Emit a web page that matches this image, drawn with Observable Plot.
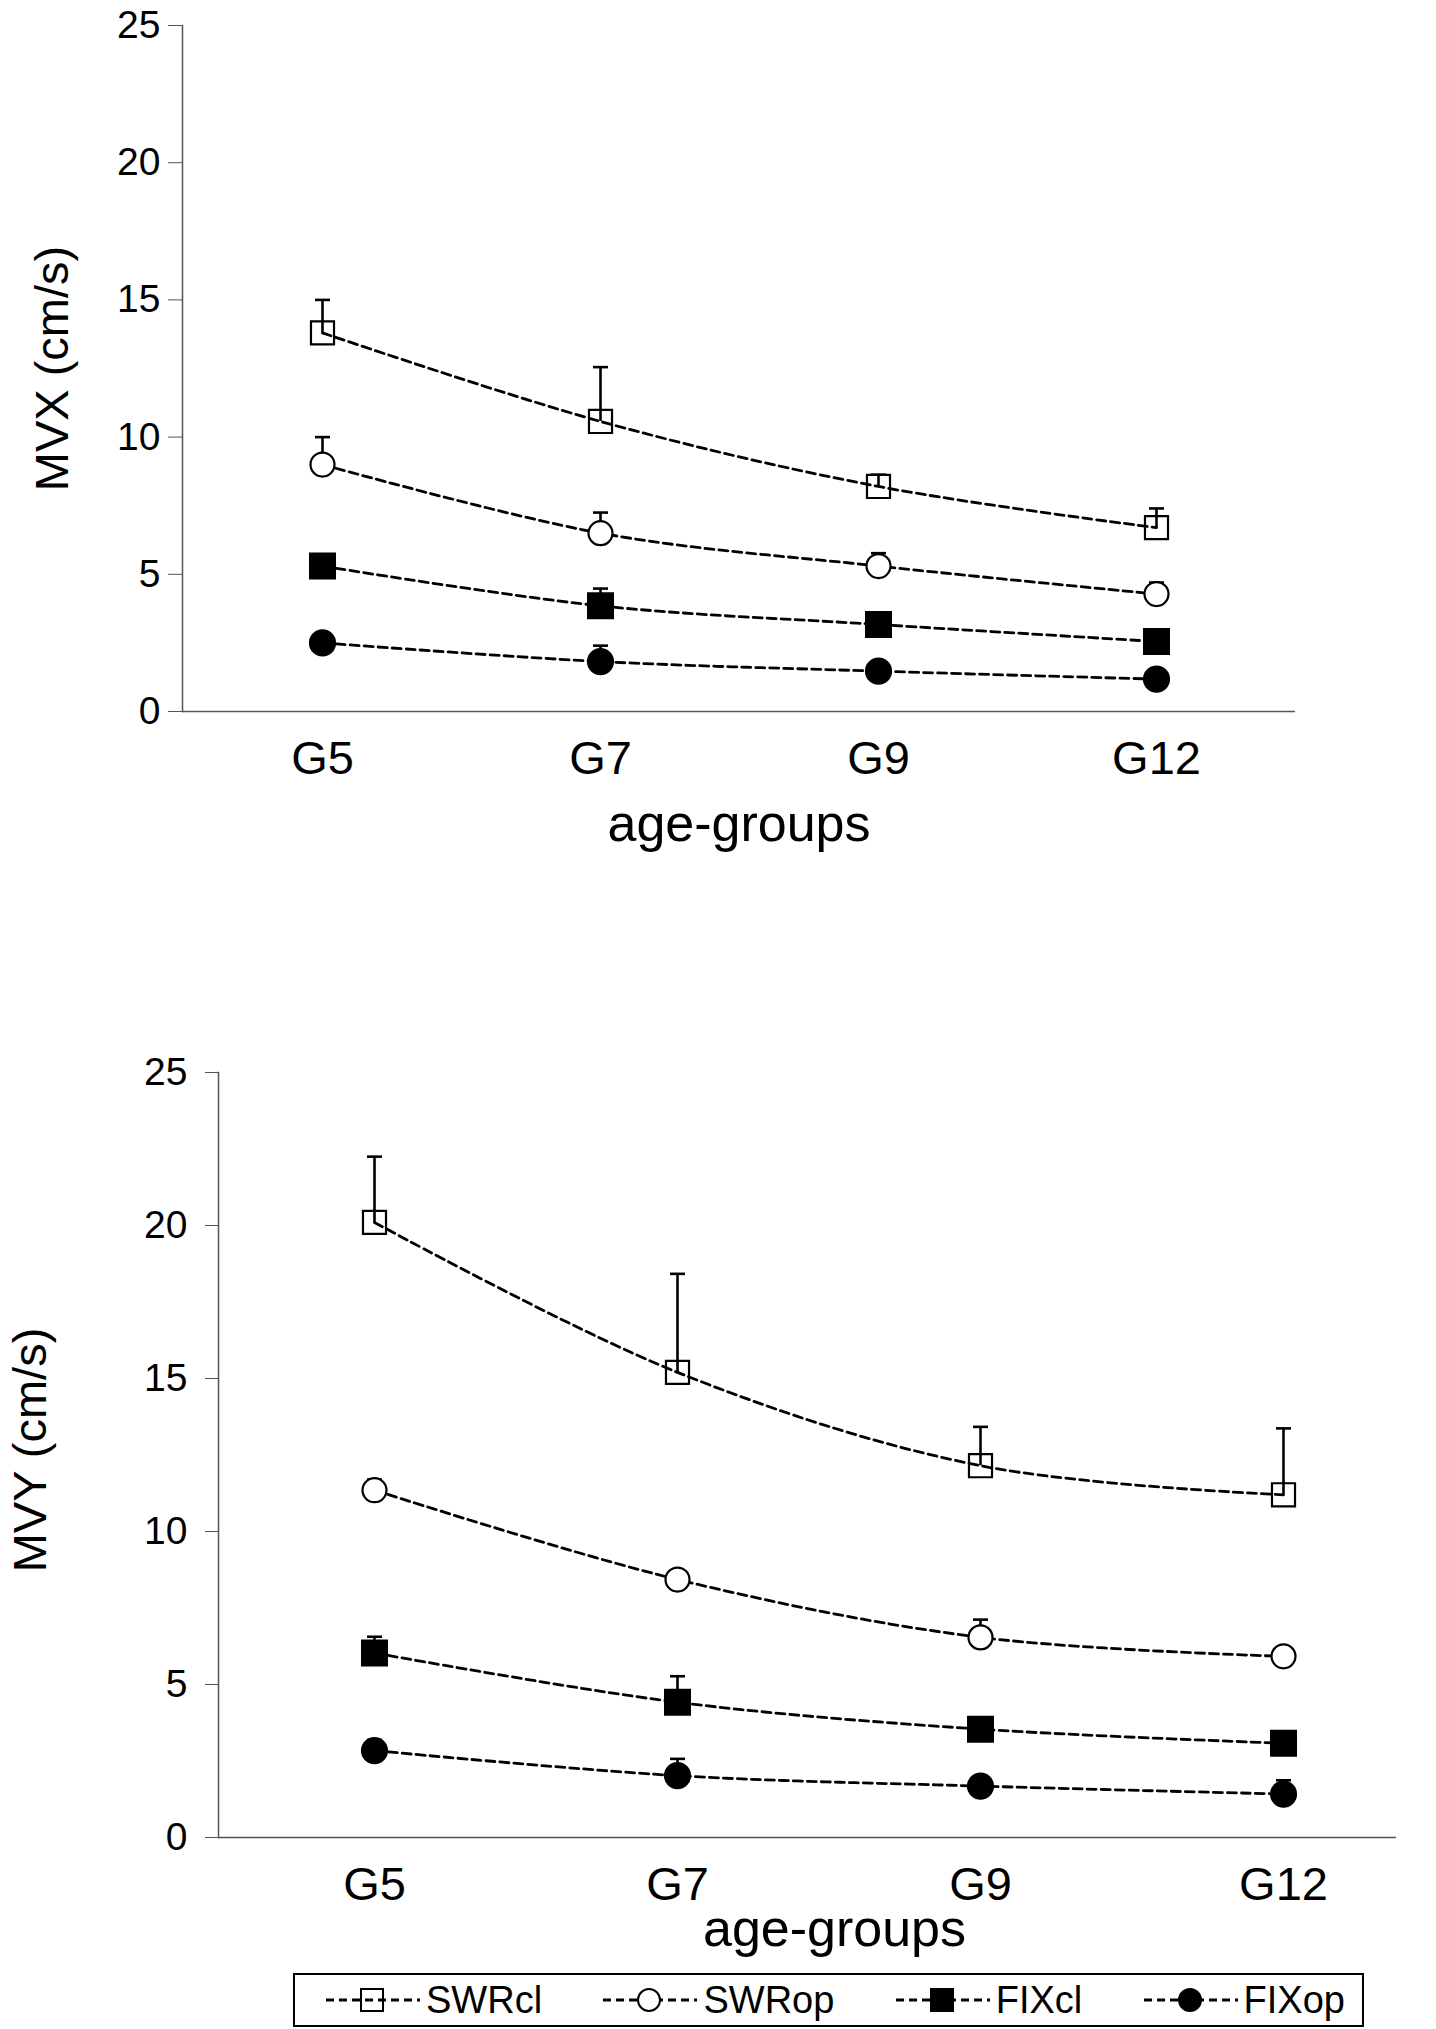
<!DOCTYPE html>
<html>
<head>
<meta charset="utf-8">
<script src="https://cdn.jsdelivr.net/npm/d3@7"></script>
<script src="https://cdn.jsdelivr.net/npm/@observablehq/plot@0.6"></script>
<style>
  body { margin: 0; background: white; font-family: "Liberation Sans", Arial, sans-serif; }
  #charts svg { display: block; }
  #legend {
    margin: 8px 0 0 293px;
    width: 1019px;
    height: 50px;
    border: 2px solid black;
    display: flex;
    align-items: center;
    justify-content: space-between;
    padding: 0 17px 0 31px;
    box-sizing: content-box;
  }
  #legend .item { display: flex; align-items: center; }
  #legend span { font-size: 38px; margin-left: 6px; color: black; }
</style>
</head>
<body>
<div id="charts"></div>
<div id="legend"></div>
<script>
const groups = ["G5", "G7", "G9", "G12"];
const seriesNames = ["SWRcl", "SWRop", "FIXcl", "FIXop"];
const yTicks = [0, 5, 10, 15, 20, 25];

// MVX means and top of error bar (null = no bar visible)
const mvxSWRcl = [13.8, 10.57, 8.2, 6.7];
const mvxSWRclTop = [15.0, 12.55, 8.63, 7.4];
const mvxSWRop = [9.0, 6.5, 5.3, 4.28];
const mvxSWRopTop = [10.0, 7.25, 5.77, 4.7];
const mvxFIXcl = [5.3, 3.85, 3.17, 2.55];
const mvxFIXclTop = [5.67, 4.48, null, null];
const mvxFIXop = [2.5, 1.82, 1.47, 1.18];
const mvxFIXopTop = [2.85, 2.4, null, null];

// MVY
const mvySWRcl = [20.1, 15.2, 12.15, 11.2];
const mvySWRclTop = [22.25, 18.42, 13.42, 13.37];
const mvySWRop = [11.35, 8.43, 6.54, 5.92];
const mvySWRopTop = [11.7, null, 7.12, null];
const mvyFIXcl = [6.03, 4.42, 3.54, 3.08];
const mvyFIXclTop = [6.56, 5.27, null, null];
const mvyFIXop = [2.84, 2.02, 1.68, 1.42];
const mvyFIXopTop = [3.19, 2.57, null, 1.87];

const symbolSpec = {
  SWRcl: {symbol: "square", fill: "none", r: 13},
  SWRop: {symbol: "circle", fill: "white", r: 12},
  FIXcl: {symbol: "square", fill: "black", r: 14},
  FIXop: {symbol: "circle", fill: "black", r: 12.5}
};

// horizontal stroke used as the cap of an error bar
const capSymbol = {
  draw(context, size) {
    const w = Math.sqrt(size / Math.PI);
    context.moveTo(-w, 0);
    context.lineTo(w, 0);
  }
};

function rows(means, tops) {
  const out = [];
  seriesNames.forEach((s, k) => {
    groups.forEach((g, i) => {
      out.push({series: s, group: g, value: means[k][i], top: tops[k][i]});
    });
  });
  return out;
}

function chart(data, o) {
  const errs = data.filter((d) => d.top != null);
  return Plot.plot({
    width: 1436,
    height: o.height,
    marginLeft: o.marginLeft,
    marginRight: o.marginRight,
    marginTop: o.marginTop,
    marginBottom: o.marginBottom,
    style: {fontFamily: "Liberation Sans, Arial, sans-serif", color: "black", background: "white"},
    x: {type: "point", domain: groups, padding: o.padding, align: o.align},
    y: {domain: [0, 25]},
    marks: [
      Plot.ruleY([0], {stroke: "#555", strokeWidth: 1.5}),
      Plot.frame({anchor: "left", stroke: "#555", strokeWidth: 1.5}),
      Plot.axisY({ticks: yTicks, tickSize: o.tickSize, tickPadding: o.tickPadding, fontSize: 39, label: null, stroke: "#555"}),
      Plot.axisX({tickSize: 0, tickPadding: 29, fontSize: 47, label: null}),
      Plot.line(data, {x: "group", y: "value", z: "series", stroke: "black", strokeWidth: 2.8,
        strokeDasharray: "9,5", curve: "catmull-rom"}),
      Plot.ruleX(errs, {x: "group", y1: "value", y2: "top", stroke: "black", strokeWidth: 2.6}),
      Plot.dot(errs, {x: "group", y: "top", symbol: capSymbol, r: 7.5, fill: "none", stroke: "black", strokeWidth: 2.6}),
      ...seriesNames.map((s) => Plot.dot(data.filter((d) => d.series === s), {
        x: "group", y: "value", symbol: symbolSpec[s].symbol, fill: symbolSpec[s].fill,
        r: symbolSpec[s].r, stroke: "black", strokeWidth: 2.2
      })),
      Plot.text([o.yLabel], {text: (d) => d, frameAnchor: "left", textAnchor: "middle", lineAnchor: "middle",
        rotate: -90, dx: o.yLabelDx, dy: o.yLabelDy, fontSize: 47}),
      Plot.text(["age-groups"], {text: (d) => d, frameAnchor: "bottom", dx: o.xLabelDx, dy: o.xLabelDy, fontSize: 52})
    ]
  });
}

const chartX = chart(
  rows([mvxSWRcl, mvxSWRop, mvxFIXcl, mvxFIXop], [mvxSWRclTop, mvxSWRopTop, mvxFIXclTop, mvxFIXopTop]),
  {height: 1040, marginLeft: 182, marginRight: 141, marginTop: 25, marginBottom: 329,
   padding: 0.5, align: 0.5, tickSize: 14, tickPadding: 8,
   yLabel: "MVX (cm/s)", yLabelDx: -130, yLabelDy: 0, xLabelDx: 0, xLabelDy: 129}
);
const chartY = chart(
  rows([mvySWRcl, mvySWRop, mvyFIXcl, mvyFIXop], [mvySWRclTop, mvySWRopTop, mvyFIXclTop, mvyFIXopTop]),
  {height: 925, marginLeft: 218, marginRight: 40, marginTop: 32, marginBottom: 128,
   padding: 0.44, align: 0.58, tickSize: 13, tickPadding: 18,
   yLabel: "MVY (cm/s)", yLabelDx: -188, yLabelDy: -5, xLabelDx: 27, xLabelDy: 108}
);
d3.select("#charts").append(() => chartX);
d3.select("#charts").append(() => chartY);

// legend: dashed line through each marker, then the name
const legend = d3.select("#legend");
seriesNames.forEach((s) => {
  const item = legend.append("div").attr("class", "item");
  const svg = item.append("svg").attr("width", 94).attr("height", 40);
  svg.append("line").attr("x1", 0).attr("x2", 94).attr("y1", 20).attr("y2", 20)
    .attr("stroke", "black").attr("stroke-width", 2.8).attr("stroke-dasharray", "8,5");
  const spec = symbolSpec[s];
  if (spec.symbol === "square") {
    svg.append("rect").attr("x", 35).attr("y", 9).attr("width", 22).attr("height", 22)
      .attr("fill", spec.fill).attr("stroke", "black").attr("stroke-width", 2);
  } else {
    svg.append("circle").attr("cx", 46).attr("cy", 20).attr("r", 11)
      .attr("fill", spec.fill).attr("stroke", "black").attr("stroke-width", 2);
  }
  item.append("span").text(s);
});
</script>
</body>
</html>
